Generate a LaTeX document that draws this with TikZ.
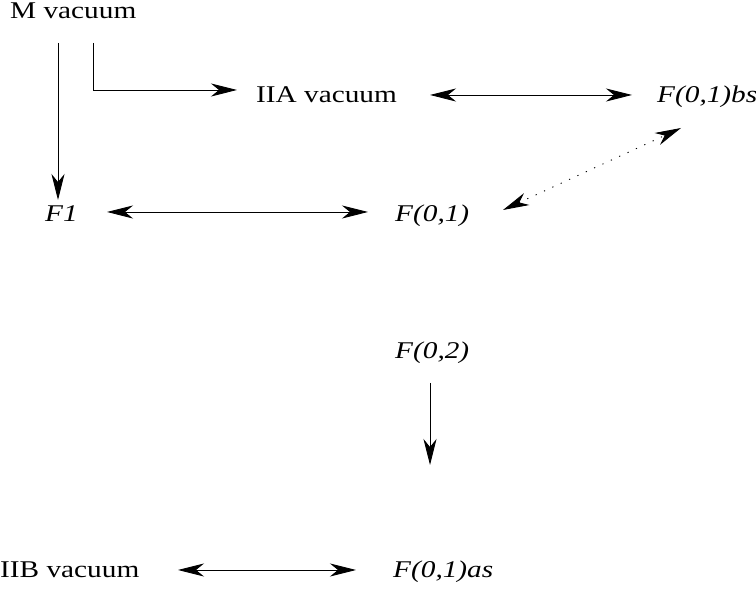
\documentclass[tikz,border=0pt]{standalone}
\usepackage{fontspec}
\setmainfont{Liberation Serif}
\usetikzlibrary{arrows.meta,positioning}

\tikzset{
  lbl/.style={inner sep=0pt, anchor=base west, xscale=1.22, transform shape, font=\fontsize{24}{28}\selectfont},
  ilbl/.style={lbl, font=\fontsize{24}{28}\selectfont\itshape},
  arr/.style={line width=0.9pt, -{Stealth[length=26pt,width=13pt,inset=8pt]}},
  darr/.style={line width=0.9pt, {Stealth[length=26pt,width=13pt,inset=8pt]}-{Stealth[length=26pt,width=13pt,inset=8pt]}},
  dotline/.style={dash pattern=on 1.2pt off 8pt}
}

\begin{document}
\begin{tikzpicture}[x=1pt,y=-1pt]
\useasboundingbox (0,0) rectangle (756,593);
% top row
\node[lbl] (mvac) at (10,19) {M vacuum};
\node[lbl] (iia) at (256,103) {IIA vacuum};
\node[ilbl] (bs) at (657,103) {F(0,1)bs};
% middle row
\node[ilbl] (f1) at (45,222) {F1};
\node[ilbl] (f01) at (395,222) {F(0,1)};
% lower part
\node[ilbl] (f02) at (395,359) {F(0,2)};
\node[lbl] (iib) at (0,578) {IIB vacuum};
\node[ilbl] (as) at (393,578) {F(0,1)as};
% connectors
\coordinate (bend) at ([shift={(83,71)}]mvac.base west);
\draw[arr] ([shift={(48,24)}]mvac.base west) -- ([shift={(13,-22)}]f1.base west);
\draw[line width=0.9pt] ([shift={(83,24)}]mvac.base west) -- (bend);
\draw[arr] (bend) -- ([shift={(-19,-13)}]iia.base west);
\draw[darr] ([shift={(174,-8)}]iia.base west) -- ([shift={(-25,-8)}]bs.base west);
\draw[darr] ([shift={(62,-10)}]f1.base west) -- ([shift={(-27,-10)}]f01.base west);
\draw[darr, dotline] ([shift={(108,-12)}]f01.base west) -- ([shift={(24,25)}]bs.base west);
\draw[arr] ([shift={(35,24)}]f02.base west) -- ([shift={(35,106)}]f02.base west);
\draw[darr] ([shift={(178,-8)}]iib.base west) -- ([shift={(-37,-8)}]as.base west);
\end{tikzpicture}
\end{document}
